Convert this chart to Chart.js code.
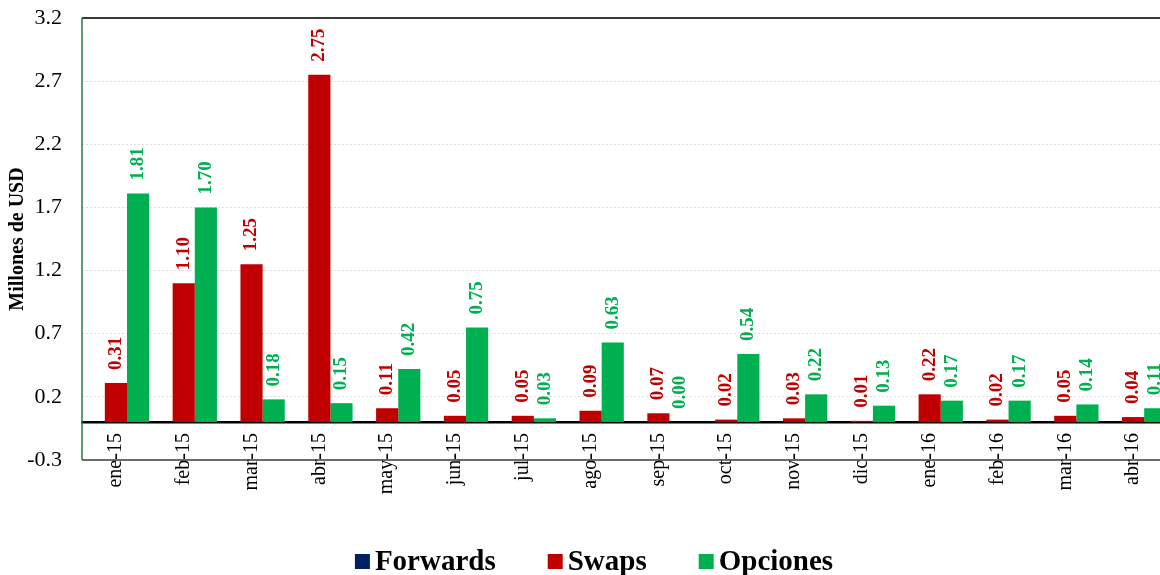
<!DOCTYPE html>
<html>
<head>
<meta charset="utf-8">
<script src="https://cdn.jsdelivr.net/npm/chart.js@4.4.1/dist/chart.umd.min.js"></script>
<style>
html, body { margin: 0; padding: 0; background: #fff; overflow: hidden; }
#wrap { width: 1168px; height: 575px; }
</style>
</head>
<body>
<div id="wrap"><canvas id="fxChart" width="1168" height="575"></canvas></div>
<script>
'use strict';

// montos mensuales negociados, millones de USD
var meses = ['ene-15', 'feb-15', 'mar-15', 'abr-15', 'may-15', 'jun-15', 'jul-15', 'ago-15',
    'sep-15', 'oct-15', 'nov-15', 'dic-15', 'ene-16', 'feb-16', 'mar-16', 'abr-16'];
var forwards = [0, 0, 0, 0, 0, 0, 0, 0, 0, 0, 0, 0, 0, 0, 0, 0];
var swaps = [0.31, 1.10, 1.25, 2.75, 0.11, 0.05, 0.05, 0.09, 0.07, 0.02, 0.03, 0.01, 0.22, 0.02, 0.05, 0.04];
var opciones = [1.81, 1.70, 0.18, 0.15, 0.42, 0.75, 0.03, 0.63, 0.00, 0.54, 0.22, 0.13, 0.17, 0.17, 0.14, 0.11];
var yTicks = [-0.3, 0.2, 0.7, 1.2, 1.7, 2.2, 2.7, 3.2];

var serif = "'Liberation Serif', 'Times New Roman', serif";

var fxColors = { forwards: '#002060', swaps: '#C00000', opciones: '#00B050' };

function fxNoPadding(scale) {
    scale.paddingTop = 0;
    scale.paddingBottom = 0;
    scale.paddingLeft = 0;
    scale.paddingRight = 0;
}

// marco del area de trazado: linea superior, inferior e izquierda
var fxFrame = {
    id: 'fxFrame',
    beforeDatasetsDraw: function (chart) {
        var a = chart.chartArea;
        var ctx = chart.ctx;
        ctx.save();
        ctx.strokeStyle = '#3a3a3a';
        ctx.lineWidth = 2;
        ctx.beginPath();
        ctx.moveTo(a.left, a.top);
        ctx.lineTo(a.right, a.top);
        ctx.stroke();
        ctx.lineWidth = 1.5;
        ctx.beginPath();
        ctx.moveTo(a.left, a.bottom);
        ctx.lineTo(a.right, a.bottom);
        ctx.stroke();
        ctx.strokeStyle = '#2a7a3c';
        ctx.lineWidth = 1.5;
        ctx.beginPath();
        ctx.moveTo(a.left, a.top);
        ctx.lineTo(a.left, a.bottom);
        ctx.stroke();
        ctx.restore();
    }
};

// etiquetas verticales de valor sobre cada barra
var fxValueLabels = {
    id: 'fxValueLabels',
    afterDatasetsDraw: function (chart) {
        var ctx = chart.ctx;
        chart.data.datasets.forEach(function (ds, di) {
            if (!ds.showValues) return;
            var meta = chart.getDatasetMeta(di);
            meta.data.forEach(function (bar, i) {
                var v = ds.data[i];
                ctx.save();
                ctx.translate(bar.x, bar.y - 13);
                ctx.rotate(-Math.PI / 2);
                ctx.textAlign = 'left';
                ctx.textBaseline = 'middle';
                ctx.fillStyle = ds.backgroundColor;
                ctx.font = 'bold 19px ' + serif;
                ctx.fillText(v.toFixed(2), 0, 0);
                ctx.restore();
            });
        });
    }
};

// leyenda inferior
var fxLegend = {
    id: 'fxLegend',
    afterDraw: function (chart) {
        var ctx = chart.ctx;
        var box = 15, gapText = 5, gapItem = 52;
        ctx.save();
        ctx.font = 'bold 29px ' + serif;
        var items = chart.data.datasets.map(function (ds) {
            return { label: ds.label, color: ds.backgroundColor, w: ctx.measureText(ds.label).width };
        });
        var total = 0;
        items.forEach(function (it, i) { total += box + gapText + it.w + (i ? gapItem : 0); });
        var x = 594 - total / 2;
        var baseline = 570;
        items.forEach(function (it) {
            ctx.fillStyle = it.color;
            ctx.fillRect(x, baseline - 16, box, box);
            ctx.fillStyle = '#000';
            ctx.textAlign = 'left';
            ctx.textBaseline = 'alphabetic';
            ctx.fillText(it.label, x + box + gapText, baseline);
            x += box + gapText + it.w + gapItem;
        });
        ctx.restore();
    }
};

new Chart(document.getElementById('fxChart'), {
    type: 'bar',
    data: {
        labels: meses,
        datasets: [
            { label: 'Forwards', data: forwards, backgroundColor: fxColors.forwards, showValues: false },
            { label: 'Swaps', data: swaps, backgroundColor: fxColors.swaps, showValues: true },
            { label: 'Opciones', data: opciones, backgroundColor: fxColors.opciones, showValues: true }
        ]
    },
    options: {
        responsive: false,
        animation: false,
        categoryPercentage: 0.98,
        barPercentage: 1.0,
        layout: { padding: { top: 18, bottom: 115, right: 1, left: 0 } },
        plugins: {
            legend: { display: false },
            tooltip: { enabled: false }
        },
        scales: {
            x: {
                position: { y: 0 },
                offset: true,
                afterFit: fxNoPadding,
                grid: { display: false, drawTicks: false },
                border: { display: true, color: '#000', width: 2.5 },
                ticks: {
                    color: '#000',
                    font: { family: serif, size: 20 },
                    maxRotation: 90,
                    minRotation: 90,
                    padding: 11,
                    autoSkip: false
                }
            },
            y: {
                min: -0.3,
                max: 3.2,
                afterBuildTicks: function (scale) {
                    scale.ticks = yTicks.map(function (v) { return { value: v }; });
                },
                afterFit: function (scale) {
                    fxNoPadding(scale);
                    scale.width = 82;
                },
                grid: {
                    drawTicks: false,
                    lineWidth: 1,
                    color: function (c) {
                        var v = c.tick ? c.tick.value : null;
                        return (v === -0.3 || v === 3.2) ? 'rgba(0,0,0,0)' : '#dcdcdc';
                    }
                },
                border: { display: false, dash: [2, 2] },
                ticks: {
                    color: '#000',
                    font: { family: serif, size: 22 },
                    padding: 20,
                    callback: function (v) { return Number(v).toFixed(1); }
                },
                title: {
                    display: true,
                    text: 'Millones de USD',
                    color: '#000',
                    font: { family: serif, size: 20, weight: 'bold' },
                    padding: { top: 6, bottom: 0 }
                }
            }
        }
    },
    plugins: [fxFrame, fxValueLabels, fxLegend]
});
</script>
</body>
</html>
